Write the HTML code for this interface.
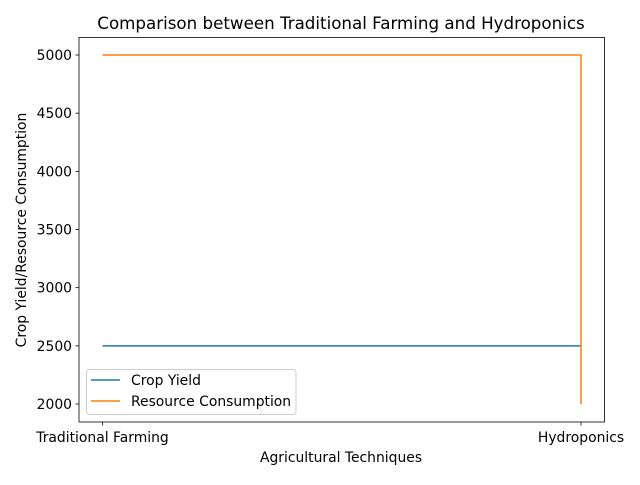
<!DOCTYPE html>
<html><head><meta charset="utf-8"><style>
body{margin:0;background:#fff;}
svg text{font-family:"DejaVu Sans","Liberation Sans",sans-serif;}
</style></head><body>
<svg id="chart" width="640" height="480" xmlns="http://www.w3.org/2000/svg">
<rect width="640" height="480" fill="#fff"/>
<text x="341" y="29" font-size="16.7" text-anchor="middle">Comparison between Traditional Farming and Hydroponics</text>
<text x="341" y="462" font-size="13.9" text-anchor="middle">Agricultural Techniques</text>
<text transform="translate(26,230) rotate(-90)" font-size="13.9" text-anchor="middle">Crop Yield/Resource Consumption</text>
<g id="axes"></g><g id="series"></g>
<rect x="79" y="37.5" width="525.5" height="384.5" fill="none" stroke="#000" stroke-width="0.8"/>
<g>
<rect x="86.5" y="369.5" width="209.5" height="45" rx="3" fill="#fff" fill-opacity="0.8" stroke="#ccc"/>
<line x1="91" y1="380" x2="120" y2="380" stroke="#1f77b4" stroke-width="1.5"/>
<text x="131" y="385" font-size="13.9">Crop Yield</text>
<line x1="91" y1="401" x2="120" y2="401" stroke="#ff7f0e" stroke-width="1.5"/>
<text x="131" y="406" font-size="13.9">Resource Consumption</text>
</g>
</svg>
<script>
const categories=["Traditional Farming","Hydroponics"];
const cropYieldX=[0,1];
const cropYield=[2500,2500];
const resourceX=[0,1,1];
const resource=[5000,5000,2000];
const yTicks=[2000,2500,3000,3500,4000,4500,5000];
const NS="http://www.w3.org/2000/svg";
function sx(i){return 102.5+i*478.5;}
function sy(v){return 404-(v-2000)*(349/3000);}
const axes=document.getElementById('axes');
function mk(tag,attrs,parent){const e=document.createElementNS(NS,tag);for(const k in attrs)e.setAttribute(k,attrs[k]);parent.appendChild(e);return e;}
yTicks.forEach(v=>{
 mk('line',{x1:75.5,x2:79,y1:sy(v),y2:sy(v),stroke:'#000','stroke-width':0.8},axes);
 const t=mk('text',{x:72,y:sy(v)+5,'font-size':13.9,'text-anchor':'end'},axes);
 t.textContent=v;
 
 
});
categories.forEach((c,i)=>{
 mk('line',{x1:sx(i),x2:sx(i),y1:422,y2:425.5,stroke:'#000','stroke-width':0.8},axes);
 const t=mk('text',{x:sx(i),y:442,'font-size':13.9,'text-anchor':'middle'},axes);
 t.textContent=c;
 
 
});
const series=document.getElementById('series');
function line(xs,ys,color,name){
 const p=mk('polyline',{points:xs.map((x,i)=>sx(x)+','+sy(ys[i])).join(' '),fill:'none',stroke:color,'stroke-width':1.5},series);
 
 
}
line(cropYieldX,cropYield,'#1f77b4','crop-yield-line');
line(resourceX,resource,'#ff7f0e','resource-consumption-line');
</script>
</body></html>
